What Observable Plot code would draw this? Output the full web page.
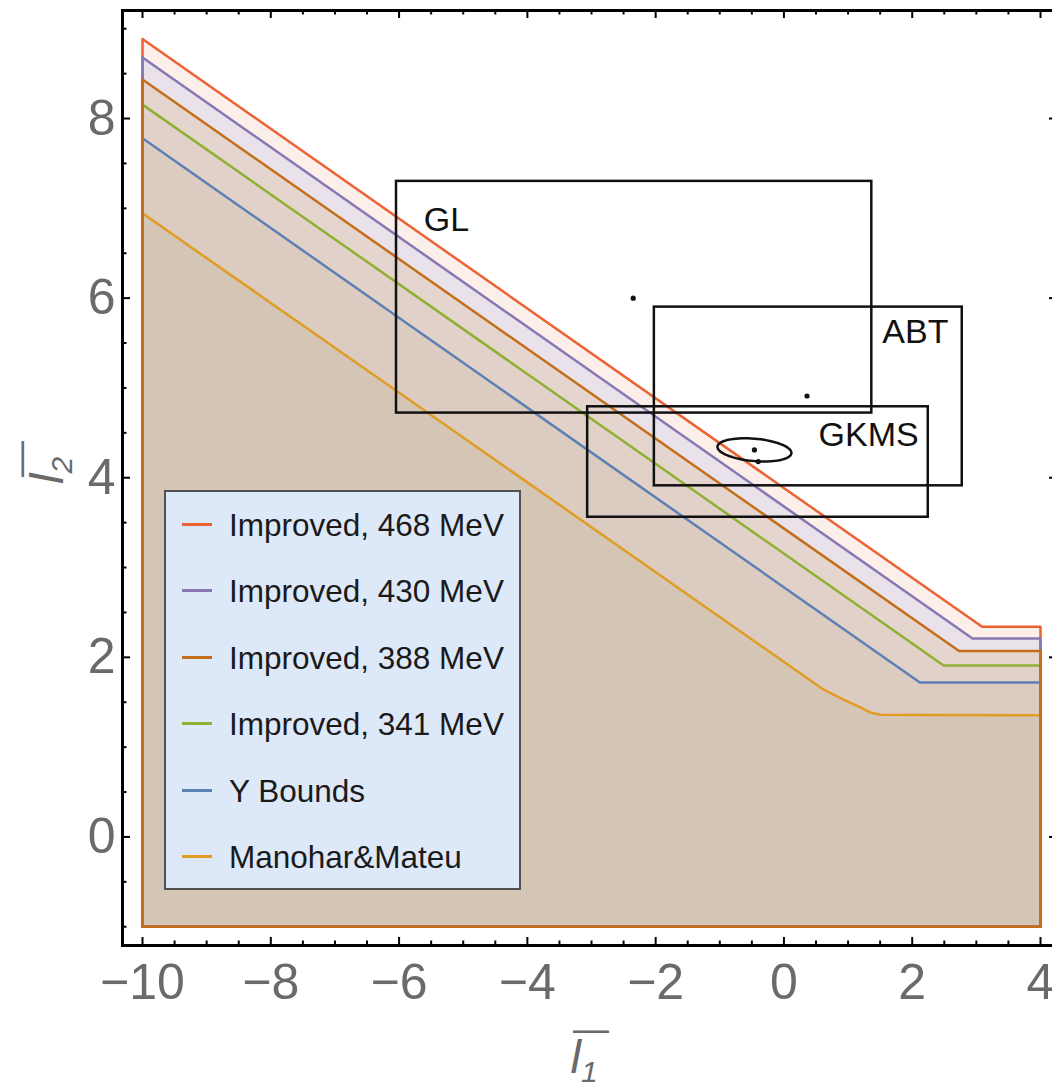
<!DOCTYPE html>
<html>
<head>
<meta charset="utf-8">
<script src="https://cdn.jsdelivr.net/npm/d3@7"></script>
<script src="https://cdn.jsdelivr.net/npm/@observablehq/plot@0.6"></script>
<style>
html, body { margin: 0; padding: 0; background: #fff; overflow: hidden; }
#wrap { position: relative; width: 1052px; height: 1082px; font-family: "Liberation Sans", Arial, sans-serif; }
#legend { position: absolute; left: 164px; top: 490px; width: 357px; height: 400px; box-sizing: border-box;
  background: #dde8f8; border: 2px solid #505050; }
.row { position: absolute; left: 0; height: 40px; transform: translateY(-50%); }
.sw { position: absolute; left: 16px; top: 18px; width: 30px; height: 3px; }
.lab { position: absolute; left: 63px; top: 2px; white-space: nowrap; font-size: 31.5px; line-height: 36px; color: #1a1a1a; }
</style>
</head>
<body>
<div id="wrap"><div id="chart"></div><div id="legend"></div></div>
<script>
// ---- data ----
const seriesNames = ["Improved, 468 MeV", "Improved, 430 MeV", "Improved, 388 MeV", "Improved, 341 MeV", "Y Bounds", "Manohar&Mateu"];
const seriesColors = ["#EB6235", "#8778B3", "#C56E1A", "#8FB032", "#5E81B5", "#E19C24"];
const bandColors = ["#fcefe9", "#e9e2ea", "#e5d5cf", "#e2d1c8", "#dccbc0", "#d5c5b5"];
const improved468X = [-10, 3.09, 4];
const improved468Y = [8.885, 2.34, 2.34];
const improved430X = [-10, 2.94, 4];
const improved430Y = [8.68, 2.21, 2.21];
const improved388X = [-10, 2.73, 4];
const improved388Y = [8.435, 2.07, 2.07];
const improved341X = [-10, 2.49, 4];
const improved341Y = [8.155, 1.91, 1.91];
const yBoundsX = [-10, 2.12, 4];
const yBoundsY = [7.78, 1.72, 1.72];
const manoharX = [-10, 0.62, 0.93, 1.2, 1.35, 1.5, 4];
const manoharY = [6.945, 1.64, 1.53, 1.44, 1.385, 1.36, 1.355];
const regionFloor = -1;

const boxNames = ["GL", "ABT", "GKMS"];
const boxX1 = [-6.04, -2.02, -3.06];
const boxX2 = [1.37, 2.78, 2.25];
const boxY1 = [4.72, 3.91, 3.56];
const boxY2 = [7.30, 5.90, 4.79];
const boxLabelX = [-5.26, 2.05, 1.32];
const boxLabelY = [6.87, 5.62, 4.47];
const pointX = [-2.35, 0.36, -0.46, -0.40];
const pointY = [6.00, 4.91, 4.31, 4.18];
// GKMS ellipse: centre, semi-axes, tilt (dy per dx)
const ellipseCenter = [-0.46, 4.31];
const ellipseSemi = [0.577, 0.125];
const ellipseTilt = -0.058;

const xTicksMajor = [-10, -8, -6, -4, -2, 0, 2, 4];
const yTicksMajor = [0, 2, 4, 6, 8];
const xTicksMinor = d3.range(-10, 4.001, 0.5).filter(v => v % 2 !== 0);
const yTicksMinor = d3.range(-1, 9.001, 0.5).filter(v => v % 2 !== 0);
const xDomain = [-10.312, 4.265];
const yDomain = [-1.209, 9.203];
const xLabelMain = "l", xLabelSub = "1";
const yLabelMain = "l", yLabelSub = "2";

// ---- build ----
const curves = [
  [improved468X, improved468Y], [improved430X, improved430Y], [improved388X, improved388Y],
  [improved341X, improved341Y], [yBoundsX, yBoundsY], [manoharX, manoharY]
].map(([xs, ys], i) => ({
  name: seriesNames[i], color: seriesColors[i], band: bandColors[i],
  pts: xs.map((x, j) => ({x, y: ys[j]}))
}));
const outline = c => [{x: c.pts[0].x, y: regionFloor}, ...c.pts, {x: c.pts[c.pts.length - 1].x, y: regionFloor}, {x: c.pts[0].x, y: regionFloor}];
const lineOrder = [5, 4, 3, 0, 1, 2];

const boxes = boxNames.map((n, i) => ({n, x1: boxX1[i], x2: boxX2[i], y1: boxY1[i], y2: boxY2[i], lx: boxLabelX[i], ly: boxLabelY[i]}));
const points = pointX.map((x, i) => ({x, y: pointY[i]}));
const ellipse = d3.range(0, 72).map(k => {
  const t = k / 72 * 2 * Math.PI;
  const dx = ellipseSemi[0] * Math.cos(t);
  return {x: ellipseCenter[0] + dx, y: ellipseCenter[1] + ellipseSemi[1] * Math.sin(t) + ellipseTilt * dx};
});

const tickLen = 8, minorLen = 4.5, tickW = 2;
const tickMarks = (vals, len) => [
  Plot.ruleX(vals, {x: d => d, y1: yDomain[0], y2: yDomain[0], insetTop: -len, stroke: "#000", strokeWidth: tickW}),
  Plot.ruleX(vals, {x: d => d, y1: yDomain[1], y2: yDomain[1], insetBottom: -len, stroke: "#000", strokeWidth: tickW})
];
const tickMarksY = (vals, len) => [
  Plot.ruleY(vals, {y: d => d, x1: xDomain[0], x2: xDomain[0], insetRight: -len, stroke: "#000", strokeWidth: tickW}),
  Plot.ruleY(vals, {y: d => d, x1: xDomain[1], x2: xDomain[1], insetLeft: -len, stroke: "#000", strokeWidth: tickW})
];
const fmt = d => (d < 0 ? "\u2212" : "") + Math.abs(d);
const gray = "#6a6a6a";

const chart = Plot.plot({
  width: 1052, height: 1082,
  marginLeft: 122, marginRight: -5, marginTop: 10, marginBottom: 137,
  x: {domain: xDomain},
  y: {domain: yDomain},
  style: {fontFamily: "'Liberation Sans', Arial, sans-serif", background: "transparent", overflow: "visible"},
  marks: [
    ...curves.map(c => Plot.areaY(c.pts, {x: "x", y1: regionFloor, y2: "y", fill: c.band})),
    ...lineOrder.map(i => Plot.line(outline(curves[i]), {x: "x", y: "y", stroke: curves[i].color, strokeWidth: 2.5})),
    Plot.rect(boxes, {x1: "x1", x2: "x2", y1: "y1", y2: "y2", fill: "none", stroke: "#111", strokeWidth: 2.5}),
    Plot.line(ellipse, {x: "x", y: "y", curve: "linear-closed", stroke: "#111", strokeWidth: 2.5}),
    Plot.dot(points, {x: "x", y: "y", r: 2.6, fill: "#111"}),
    Plot.text(boxes, {x: "lx", y: "ly", text: "n", fontSize: 34, fill: "#111"}),
    Plot.frame({stroke: "#000", strokeWidth: 3}),
    ...tickMarks(xTicksMajor, tickLen), ...tickMarks(xTicksMinor, minorLen),
    ...tickMarksY(yTicksMajor, tickLen), ...tickMarksY(yTicksMinor, minorLen),
    Plot.axisX(xTicksMajor, {anchor: "bottom", tickSize: 0, tickPadding: 18, fontSize: 50, color: gray, tickFormat: fmt, label: null}),
    Plot.axisY(yTicksMajor, {anchor: "left", tickSize: 0, tickPadding: 7, fontSize: 50, color: gray, tickFormat: fmt, label: null}),
    // axis labels: italic l with subscript, plus an overbar
    Plot.text([xLabelMain], {frameAnchor: "bottom", lineAnchor: "middle", dy: 112, dx: -6, fontSize: 47, fontStyle: "italic", fill: gray, className: "xlab"}),
    Plot.text(["\u2014"], {frameAnchor: "bottom", lineAnchor: "middle", dy: 84, dx: 1, fontSize: 36, fill: gray}),
    Plot.text([yLabelMain], {frameAnchor: "left", lineAnchor: "middle", dx: -75, dy: 6, rotate: -90, fontSize: 47, fontStyle: "italic", fill: gray, className: "ylab"}),
    Plot.text(["\u2014"], {frameAnchor: "left", lineAnchor: "middle", dx: -102, dy: -1, rotate: -90, fontSize: 36, fill: gray})
  ]
});
document.getElementById("chart").appendChild(chart);

// axis-label subscripts
[["xlab", xLabelSub], ["ylab", yLabelSub]].forEach(([cls, sub]) => {
  d3.select(chart).selectAll(`.${cls} text`).each(function () {
    d3.select(this).append("tspan").attr("font-size", 30).attr("dy", 9).attr("font-style", "italic").text(sub);
  });
});

// legend
const legend = d3.select("#legend");
seriesNames.forEach((n, i) => {
  const row = legend.append("div").attr("class", "row").style("top", (33 + i * 66.4) + "px");
  row.append("div").attr("class", "sw").style("background", seriesColors[i]);
  row.append("div").attr("class", "lab").text(n);
});
</script>
</body>
</html>
